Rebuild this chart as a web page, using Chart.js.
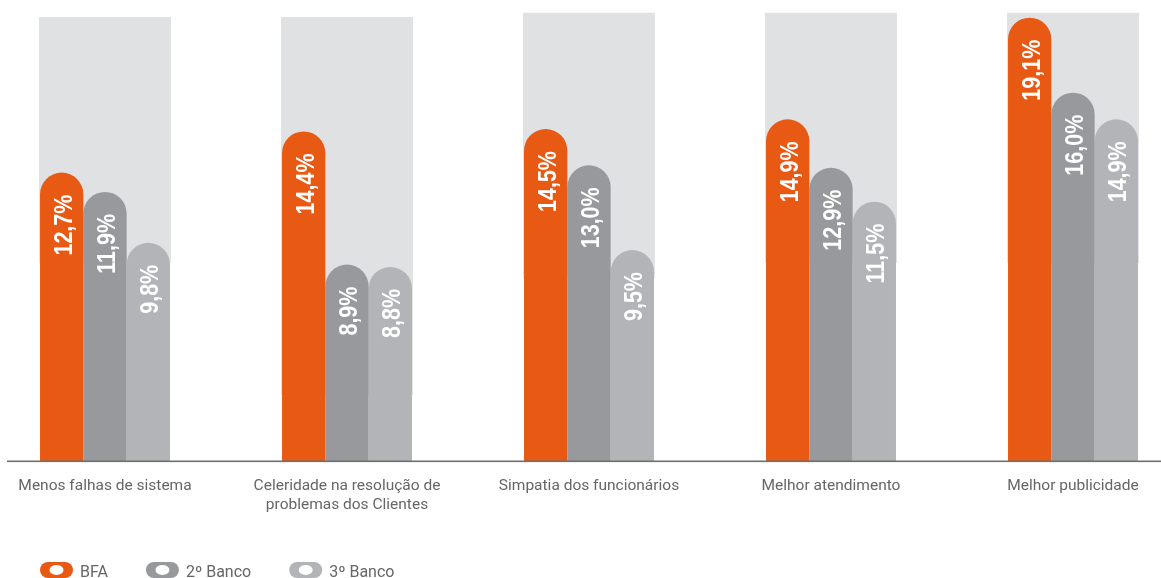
<!DOCTYPE html>
<html>
<head>
<meta charset="utf-8">
<script src="https://cdn.jsdelivr.net/npm/chart.js@4.4.0/dist/chart.umd.min.js"></script>
<style>
  html, body { margin: 0; padding: 0; background: #fff; overflow: hidden; }
</style>
</head>
<body>
<canvas id="chart" width="1161" height="578"></canvas>
<script>
// data
const categories = [
  "Menos falhas de sistema",
  ["Celeridade na resolução de", "problemas dos Clientes"],
  "Simpatia dos funcionários",
  "Melhor atendimento",
  "Melhor publicidade",
];
const seriesNames = ["BFA", "2º Banco", "3º Banco"];
const bfa = [12.7, 14.4, 14.5, 14.9, 19.1];
const banco2 = [11.9, 8.9, 13.0, 12.9, 16.0];
const banco3 = [9.8, 8.8, 9.5, 11.5, 14.9];
// grey panels behind each group (low / high, same units as y)
const panelLow = [8.97, 3.51, 8.35, 8.97, 8.97];
const panelHigh = [19.13, 19.13, 19.3, 19.3, 19.3];

const yMin = 0.785;
const yMax = 19.83;

const colors = ["#E85A14", "#98999D", "#B3B4B8"];
const panelColor = "#E0E1E3";
const textColor = "#666666";
const labelFont = "'Liberation Sans', Arial, sans-serif";
const textFont = "Roboto, 'Liberation Sans', sans-serif";

function fmt(v) {
  return v.toFixed(1).replace(".", ",") + "%";
}

const barRadius = { topLeft: 30, topRight: 30, bottomLeft: 0, bottomRight: 0 };

function barSet(label, data, color) {
  return {
    label: label,
    data: data,
    base: yMin,
    backgroundColor: color,
    borderRadius: barRadius,
    borderSkipped: false,
    categoryPercentage: 0.537,
    barPercentage: 1,
    clip: false,
    order: 0,
  };
}

// white rotated values inside the bars (squeezed a bit, the original face is narrow)
const valueLabels = {
  id: "valueLabels",
  afterDatasetsDraw(chart) {
    const ctx = chart.ctx;
    ctx.save();
    ctx.fillStyle = "#fff";
    ctx.font = "bold 25px " + labelFont;
    ctx.textAlign = "right";
    ctx.textBaseline = "alphabetic";
    chart.data.datasets.forEach((ds, di) => {
      if (ds.isPanel) return;
      const meta = chart.getDatasetMeta(di);
      meta.data.forEach((bar, i) => {
        ctx.save();
        ctx.translate(bar.x + 10, bar.y + 22);
        ctx.rotate(-Math.PI / 2);
        ctx.scale(0.86, 1);
        ctx.fillText(fmt(ds.data[i]), 0, 0);
        ctx.restore();
      });
    });
    ctx.restore();
  },
};

// baseline across the whole width + legend
const extras = {
  id: "extras",
  afterDraw(chart) {
    const ctx = chart.ctx;
    const y = chart.scales.y.getPixelForValue(yMin);
    ctx.save();
    ctx.fillStyle = "#6f6f6f";
    ctx.fillRect(7, y - 0.5, chart.width - 7, 1.6);

    ctx.font = "16px " + textFont;
    ctx.textBaseline = "alphabetic";
    let x = 40;
    seriesNames.forEach((name, i) => {
      ctx.fillStyle = colors[i];
      ctx.beginPath();
      ctx.roundRect(x, 562, 33, 16, 8);
      ctx.fill();
      ctx.fillStyle = "#fff";
      ctx.beginPath();
      ctx.ellipse(x + 16.5, 570, 7, 5, 0, 0, Math.PI * 2);
      ctx.fill();
      ctx.fillStyle = textColor;
      ctx.fillText(name, x + 40, 577);
      x += 40 + ctx.measureText(name).width + 38;
    });
    ctx.restore();
  },
};

const ctx = document.getElementById("chart").getContext("2d");
const chart = new Chart(ctx, {
  type: "bar",
  data: {
    labels: categories,
    datasets: [
      barSet(seriesNames[0], bfa, colors[0]),
      barSet(seriesNames[1], banco2, colors[1]),
      barSet(seriesNames[2], banco3, colors[2]),
      {
        label: "panel",
        isPanel: true,
        data: panelLow.map((lo, i) => [lo, panelHigh[i]]),
        backgroundColor: panelColor,
        grouped: false,
        categoryPercentage: 0.545,
        barPercentage: 1,
        borderRadius: 0,
        clip: false,
        order: 10,
      },
    ],
  },
  options: {
    responsive: false,
    animation: false,
    devicePixelRatio: 1,
    layout: { padding: { left: 105, right: 88, top: 0, bottom: 0 } },
    plugins: {
      legend: { display: false },
      tooltip: { enabled: false },
    },
    scales: {
      x: {
        offset: false,
        grid: { display: false, drawTicks: false },
        border: { display: false },
        ticks: {
          autoSkip: false,
          maxRotation: 0,
          padding: 16,
          color: textColor,
          font: { family: textFont, size: 15.5, lineHeight: 1.22 },
        },
        afterFit(scale) {
          scale.height = 117;
        },
      },
      y: {
        display: false,
        min: yMin,
        max: yMax,
      },
    },
  },
  plugins: [valueLabels, extras],
});
</script>
</body>
</html>
